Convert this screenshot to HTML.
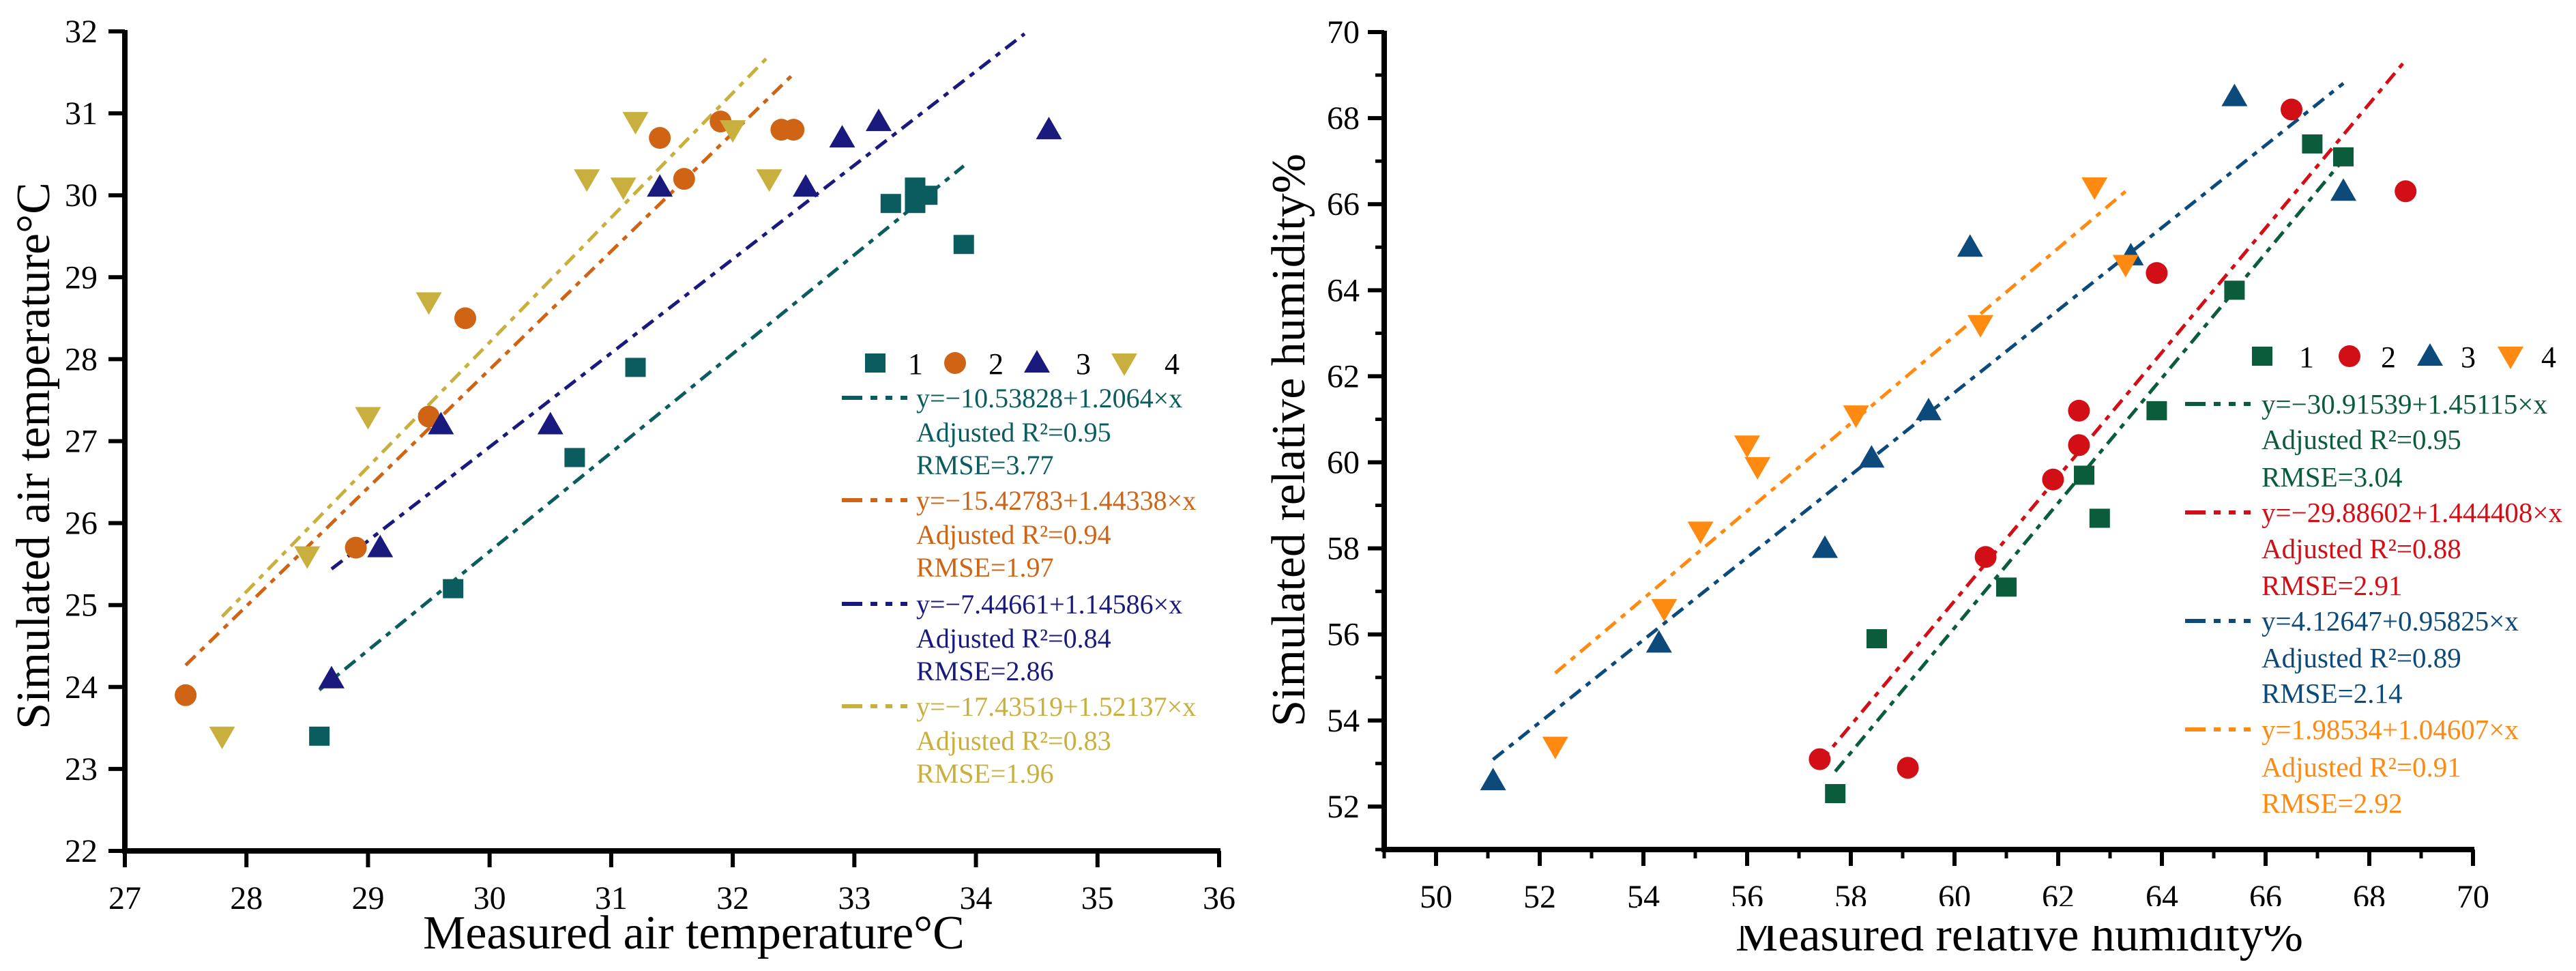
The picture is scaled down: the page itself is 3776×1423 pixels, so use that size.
<!DOCTYPE html>
<html><head><meta charset="utf-8"><style>
html,body{margin:0;padding:0;background:#fff;}
svg{display:block;font-family:"Liberation Serif",serif;}
</style></head><body>
<svg id="c" width="3776" height="1423" viewBox="0 0 3776 1423" xmlns="http://www.w3.org/2000/svg"></svg>
<script>
// ---- Left chart data (air temperature) ----
const tX1=[28.6,29.7,30.7,31.2,33.3,33.5,33.5,33.6,33.9];
const tY1=[23.4,25.2,26.8,27.9,29.9,30.1,29.9,30.0,29.4];
const tX2=[27.5,28.9,29.5,29.8,31.4,31.6,31.9,32.4,32.5];
const tY2=[23.9,25.7,27.3,28.5,30.7,30.2,30.9,30.8,30.8];
const tX3=[28.7,29.1,29.6,30.5,31.4,32.6,32.9,33.2,34.6];
const tY3=[24.1,25.7,27.2,27.2,30.1,30.1,30.7,30.9,30.8];
const tX4=[27.8,28.5,29.0,29.5,30.8,31.1,31.2,32.0,32.3];
const tY4=[23.4,25.6,27.3,28.7,30.2,30.1,30.9,30.8,30.2];
const tIntercepts=[-10.53828,-15.42783,-7.44661,-17.43519];
const tSlopes=[1.2064,1.44338,1.14586,1.52137];
const tFitFrom=[28.6,27.5,28.7,27.8];
const tFitTo=[33.9,32.5,34.4,32.3];
const tXTicks=[27,28,29,30,31,32,33,34,35,36];
const tYTicks=[22,23,24,25,26,27,28,29,30,31,32];
const tLegend=[["y=−10.53828+1.2064×x","Adjusted R²=0.95","RMSE=3.77"],["y=−15.42783+1.44338×x","Adjusted R²=0.94","RMSE=1.97"],["y=−7.44661+1.14586×x","Adjusted R²=0.84","RMSE=2.86"],["y=−17.43519+1.52137×x","Adjusted R²=0.83","RMSE=1.96"]];
// ---- Right chart data (relative humidity) ----
const hX1=[57.7,58.5,61.0,62.5,62.8,63.9,65.4,66.9,67.5];
const hY1=[52.3,55.9,57.1,59.7,58.7,61.2,64.0,67.4,67.1];
const hX2=[57.4,59.1,60.6,61.9,62.4,62.4,63.9,66.5,68.7];
const hY2=[53.1,52.9,57.8,59.6,60.4,61.2,64.4,68.2,66.3];
const hX3=[51.1,54.3,57.5,58.4,59.5,60.3,63.4,65.4,67.5];
const hY3=[52.6,55.8,58.0,60.1,61.2,65.0,64.8,68.5,66.3];
const hX4=[52.3,54.4,55.1,56.0,56.2,58.1,60.5,62.7,63.3];
const hY4=[53.4,56.6,58.4,60.4,59.9,61.1,63.2,66.4,64.6];
const hIntercepts=[-30.91539,-29.88602,4.12647,1.86];
const hSlopes=[1.45115,1.444408,0.95825,1.018];
const hFitFrom=[57.7,57.4,51.1,52.3];
const hFitTo=[67.5,68.7,67.5,63.3];
const hXTicks=[50,52,54,56,58,60,62,64,66,68,70];
const hYTicks=[52,54,56,58,60,62,64,66,68,70];
const hLegend=[["y=−30.91539+1.45115×x","Adjusted R²=0.95"," RMSE=3.04"],["y=−29.88602+1.444408×x","Adjusted R²=0.88","RMSE=2.91"],["y=4.12647+0.95825×x","Adjusted R²=0.89","RMSE=2.14"],["y=1.98534+1.04607×x","Adjusted R²=0.91","RMSE=2.92"]];

const NS="http://www.w3.org/2000/svg";
const svg=document.getElementById('c');
function mk(tag,attrs,parent){const e=document.createElementNS(NS,tag);for(const k in attrs)e.setAttribute(k,attrs[k]);(parent||svg).appendChild(e);return e;}
function txt(s,attrs,parent){const e=mk('text',attrs,parent);e.textContent=s;return e;}

function marker(shape,cx,cy,color,g){
  let e;
  if(shape==='sq'){e=mk('rect',{x:cx-15,y:cy-14,width:30,height:28,fill:color},g);}
  else if(shape==='ci'){e=mk('ellipse',{cx:cx,cy:cy,rx:16,ry:16,fill:color},g);}
  else if(shape==='up'){e=mk('polygon',{points:`${cx},${cy-19} ${cx+19},${cy+14} ${cx-19},${cy+14}`,fill:color},g);}
  else {e=mk('polygon',{points:`${cx-19},${cy-14} ${cx+19},${cy-14} ${cx},${cy+19}`,fill:color},g);}
  return e;
}

function chart(cfg){
  const g=mk('g',{});
  
  
  const sx=v=>cfg.x0+(v-cfg.xmin)/(cfg.xmax-cfg.xmin)*(cfg.x1-cfg.x0);
  const sy=v=>cfg.y0-(v-cfg.ymin)/(cfg.ymax-cfg.ymin)*(cfg.y0-cfg.y1);
  // fit lines
  for(let i=0;i<4;i++){
    const a=cfg.ints[i],b=cfg.slopes[i];
    const l=mk('line',{x1:sx(cfg.from[i]),y1:sy(a+b*cfg.from[i]),x2:sx(cfg.to[i]),y2:sy(a+b*cfg.to[i]),stroke:cfg.colors[i],'stroke-width':5,'stroke-dasharray':'20,10,8,10'},g);
    
    
  }
  // points
  for(let i=0;i<4;i++){
    const xs=cfg.xs[i],ys=cfg.ys[i];
    for(let j=0;j<xs.length;j++){
      const m=marker(cfg.shapes[i],sx(xs[j]),sy(ys[j]),cfg.colors[i],g);
      
      
    }
  }
  // axes
  const ax=mk('path',{d:`M${cfg.x0},${cfg.y1-2} V${cfg.y0} H${cfg.x1+2}`,fill:'none',stroke:'#000','stroke-width':8},g);
  
  
  // x ticks
  cfg.xticks.forEach(v=>{
    mk('line',{x1:sx(v),y1:cfg.y0,x2:sx(v),y2:cfg.y0+24,stroke:'#000','stroke-width':6},g);
    const t=txt(String(v),{x:sx(v),y:cfg.y0+85,'text-anchor':'middle','font-size':48,fill:'#000'},g);
    
    
  });
  cfg.yticks.forEach(v=>{
    mk('line',{x1:cfg.x0,y1:sy(v),x2:cfg.x0-24,y2:sy(v),stroke:'#000','stroke-width':6},g);
    const t=txt(String(v),{x:cfg.ylabx,y:sy(v)+16,'text-anchor':'end','font-size':48,fill:'#000'},g);
    
    
  });
  if(cfg.minor){
    for(let v=cfg.xmin;v<=cfg.xmax;v+=1){if(cfg.xticks.indexOf(v)<0)mk('line',{x1:sx(v),y1:cfg.y0,x2:sx(v),y2:cfg.y0+13,stroke:'#000','stroke-width':5},g);}
    for(let v=cfg.ymin;v<=cfg.ymax;v+=1){if(cfg.yticks.indexOf(v)<0)mk('line',{x1:cfg.x0,y1:sy(v),x2:cfg.x0-13,y2:sy(v),stroke:'#000','stroke-width':5},g);}
  }
  // titles
  const xt=txt(cfg.xtitle,{x:cfg.xtx,y:cfg.xty,'text-anchor':'middle','font-size':70,fill:'#000'},g);
  
  
  const yt=txt(cfg.ytitle,{x:0,y:0,'text-anchor':'middle','font-size':70,fill:'#000',transform:`translate(${cfg.ytx},${cfg.yty}) rotate(-90)`},g);
  
  
  // legend
  const lg=mk('g',{},g);
  
  
  for(let i=0;i<4;i++){
    const m=marker(cfg.shapes[i],cfg.legMX[i],cfg.legMY,cfg.colors[i],lg);
    
    
    const n=txt(String(i+1),{x:cfg.legNX[i],y:cfg.legMY+16,'text-anchor':'middle','font-size':44,fill:'#000'},lg);
    
    
  }
  for(let i=0;i<4;i++){
    const yy=cfg.legY[i*3];
    mk('line',{x1:cfg.legLX0,y1:yy,x2:cfg.legLX1,y2:yy,stroke:cfg.colors[i],'stroke-width':6,'stroke-dasharray':'30,12,10,12,10,12,10'},lg);
    for(let k=0;k<3;k++){
      const t=txt(cfg.legend[i][k],{x:cfg.legTX,y:cfg.legY[i*3+k]+14,'font-size':cfg.legFS,fill:cfg.colors[i],'xml:space':'preserve'},lg);
      
      
    }
  }
  return g;
}

chart({name:'air-temperature-chart',x0:183,x1:1787,y0:1247,y1:46,xmin:27,xmax:36,ymin:22,ymax:32,
  xs:[tX1,tX2,tX3,tX4],ys:[tY1,tY2,tY3,tY4],ints:tIntercepts,slopes:tSlopes,from:tFitFrom,to:tFitTo,
  colors:['#0b5c5e','#cf6414','#1a1a7e','#c9b03e'],shapes:['sq','ci','up','dn'],
  xticks:tXTicks,yticks:tYTicks,minor:false,ylabx:143,
  xtitle:'Measured air temperature°C',xtx:1017,xty:1390,ytitle:'Simulated air temperature°C',ytx:72,yty:668,
  legMX:[1283,1400,1520,1648],legNX:[1342,1460,1588,1718],legMY:532,
  legY:[583,633,681,733,783,831,885,935,983,1035,1085,1133],legLX0:1234,legLX1:1340,legTX:1343,legFS:40,legend:tLegend});

chart({name:'relative-humidity-chart',x0:2029,x1:3625,y0:1245,y1:47,xmin:49,xmax:70,ymin:51,ymax:70,
  xs:[hX1,hX2,hX3,hX4],ys:[hY1,hY2,hY3,hY4],ints:hIntercepts,slopes:hSlopes,from:hFitFrom,to:hFitTo,
  colors:['#0a5c3a','#d20f17','#0c4a7c','#ff8a12'],shapes:['sq','ci','up','dn'],
  xticks:hXTicks,yticks:hYTicks,minor:true,ylabx:1993,
  xtitle:'Measured relative humidity%',xtx:2960,xty:1393,ytitle:'Simulated relative humidity%',ytx:1912,yty:645,
  legMX:[3316,3444,3562,3680],legNX:[3381,3501,3618,3736],legMY:522,
  legY:[592,644,699,751,804,858,910,964,1016,1069,1124,1177],legLX0:3203,legLX1:3309,legTX:3315,legFS:41,legend:hLegend});

// clip top of right x-axis title as in reference
const cover=mk('rect',{x:2400,y:1328,width:1200,height:29,fill:'#fff'});


</script>
</body></html>
